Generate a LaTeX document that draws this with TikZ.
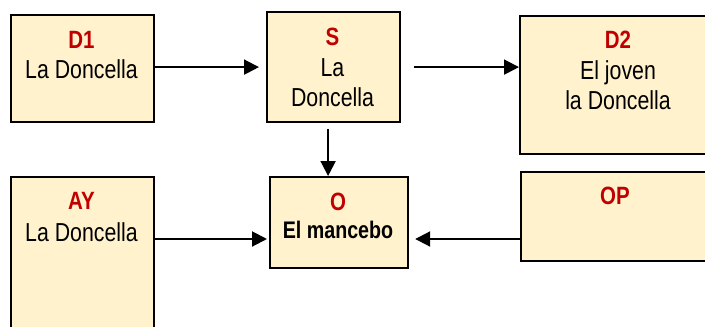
\documentclass[tikz,border=0pt]{standalone}
\usepackage{fontspec}
\setmainfont{Liberation Sans}[FakeStretch=0.82]
\usetikzlibrary{arrows.meta}
\definecolor{boxfill}{HTML}{FFF2CC}
\definecolor{lblred}{HTML}{C00000}
\tikzset{
  box/.style={draw=black, fill=boxfill, line width=2.2pt, rectangle, anchor=north west, inner sep=0pt},
  arr/.style={line width=2pt, -{Triangle[length=15pt,width=15pt]}},
  redlbl/.style={anchor=base, text=lblred, font=\fontsize{25pt}{30pt}\selectfont\bfseries, inner sep=0pt},
  txt/.style={anchor=base, align=center, font=\fontsize{26pt}{30pt}\selectfont, inner sep=0pt},
  boldtxt/.style={anchor=base, align=center, font=\fontsize{24pt}{30pt}\selectfont\bfseries, inner sep=0pt}
}
\begin{document}
\begin{tikzpicture}[x=1pt,y=-1pt]
\useasboundingbox (0,0) rectangle (705,327);
\clip (0,0) rectangle (705,327);
\fill[white] (0,0) rectangle (705,327);
% boxes
\node[box, minimum width=143pt, minimum height=107pt] (D1) at (10,14) {};
\node[box, minimum width=133pt, minimum height=110pt] (S) at (266,11) {};
\node[box, minimum width=198pt, minimum height=138pt] (D2) at (519,15) {};
\node[box, minimum width=143pt, minimum height=164pt] (AY) at (10,176) {};
\node[box, minimum width=138pt, minimum height=91pt] (O) at (269,176) {};
\node[box, minimum width=190pt, minimum height=89pt] (OP) at (520,171) {};
% texts
\node[redlbl] (tD1) at (81.5,48) {D1};
\node[txt] (tD1b) at (81.5,78) {La Doncella};
\node[redlbl] (tS) at (332.5,45) {S};
\node[txt] (tSb) at (332.5,106) {La\\Doncella};
\node[redlbl] (tD2) at (618,48) {D2};
\node[txt] (tD2b) at (618,109) {El joven\\la Doncella};
\node[redlbl] (tAY) at (81.5,209) {AY};
\node[txt] (tAYb) at (81.5,241) {La Doncella};
\node[redlbl] (tO) at (338,210) {O};
\node[boldtxt] (tOb) at (338,238) {El mancebo};
\node[redlbl] (tOP) at (615,204) {OP};
% connectors
\coordinate (lv) at (0,239);
\draw[arr, shorten >=7pt] (D1.east |- S.west) -- (S.west);
\draw[arr, shorten <=13pt] (S.east) -- (D2.west |- S.east);
\draw[arr, shorten <=6pt] ([xshift=-5.5pt]S.south) -- ([xshift=-5.5pt]S.south |- O.north);
\draw[arr, shorten >=2pt] (AY.east |- lv) -- (O.west |- lv);
\draw[arr, shorten >=6pt] (OP.west |- lv) -- (O.east |- lv);
\end{tikzpicture}
\end{document}
